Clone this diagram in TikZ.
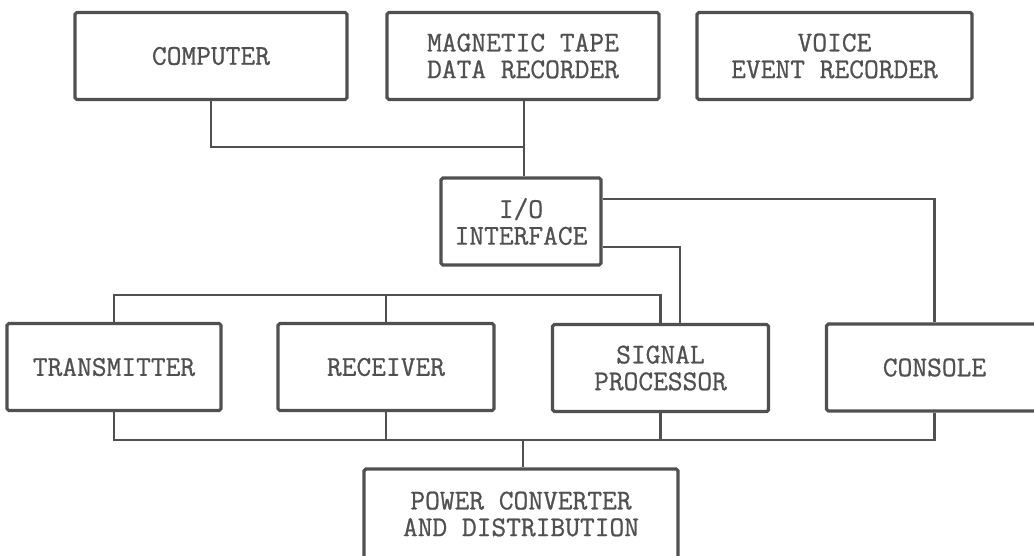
\documentclass[tikz,border=0pt]{standalone}
\usepackage{fontspec}
\usepackage{tikz}
\newfontfamily\maquina{Latin Modern Mono}[FakeBold=0.8]
\definecolor{tinta}{HTML}{505050}

\begin{document}
\begin{tikzpicture}[
    font=\fontsize{16.3}{15.2}\selectfont\maquina\bfseries,
    bloque/.style={
        draw=tinta,
        line width=1.8pt,
        rounded corners=1pt,
        text=tinta,
        minimum width=4.32cm,
        minimum height=1.74cm,
        align=center,
        inner sep=0pt
    },
    linea/.style={draw=tinta, line width=1.5pt}
]
    \useasboundingbox (0,0) rectangle (20.68,-11.12);

    \node[bloque, minimum width=5.44cm] (computadora) at (4.22,-1.12)
        {COMPUTER};
    \node[bloque, minimum width=5.44cm] (cinta) at (10.46,-1.12)
        {MAGNETIC TAPE\\DATA RECORDER};
    \node[bloque, minimum width=5.5cm] (voz) at (16.69,-1.12)
        {VOICE\\EVENT RECORDER};
    \node[bloque, minimum width=3.2cm] (interfaz) at (10.42,-4.43)
        {I/O\\INTERFACE};

    \node[bloque, minimum width=4.28cm] (transmisor) at (2.28,-7.34)
        {TRANSMITTER};
    \node[bloque] (receptor) at (7.72,-7.34)
        {RECEIVER};
    \node[bloque] (procesador) at (13.21,-7.36)
        {SIGNAL\\PROCESSOR};
    \node[bloque] (consola) at (18.69,-7.35)
        {CONSOLE};
    \node[bloque, minimum width=6.28cm, minimum height=1.8cm] (potencia) at (10.42,-10.28)
        {POWER CONVERTER\\AND DISTRIBUTION};

    \coordinate (nudo) at (10.48,-2.94);
    \coordinate (barra) at (7.72,-5.9);
    \coordinate (retorno) at (10.46,-8.8);

    \draw[linea] (computadora.south) |- (nudo);
    \draw[linea] (nudo |- cinta.south) -- (nudo |- interfaz.north);
    \draw[linea] ([yshift=0.45cm]interfaz.east) -| (consola.north);
    \draw[linea] ([yshift=-0.51cm]interfaz.east) -| ([xshift=0.39cm]procesador.north);

    \draw[linea] (transmisor.north) |- (barra) -| (procesador.north);
    \draw[linea] (receptor.north) -- (barra);

    \draw[linea] (transmisor.south) |- (retorno) -| (consola.south);
    \draw[linea] (receptor.south) -- (receptor.south |- retorno);
    \draw[linea] (procesador.south) -- (procesador.south |- retorno);
    \draw[linea] (potencia.north -| retorno) -- (retorno);
\end{tikzpicture}
\end{document}
